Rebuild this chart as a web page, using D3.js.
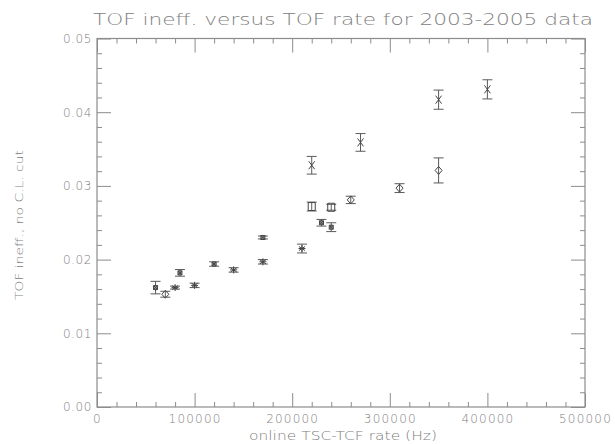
<!DOCTYPE html>
<html>
<head>
<meta charset="utf-8">
<script src="https://cdn.jsdelivr.net/npm/d3@7"></script>
<style>
  body { margin: 0; background: #fff; }
  svg text { font-family: "DejaVu Sans", sans-serif; font-weight: 200; fill: #808080; }
</style>
</head>
<body>
<svg id="chart"></svg>
<script>
var canvas_width = 615;
var canvas_height = 444;

// data, grouped by marker style
var rate_box = [60000, 85000, 120000, 170000, 230000, 240000];
var ineff_box = [0.0162, 0.0182, 0.0194, 0.0230, 0.0250, 0.0244];
var err_box = [0.00085, 0.00045, 0.0003, 0.0002, 0.00045, 0.0006];

var rate_star = [80000, 100000, 140000, 170000, 210000];
var ineff_star = [0.0162, 0.0165, 0.0186, 0.0197, 0.0215];
var err_star = [0.0002, 0.0003, 0.0003, 0.0003, 0.0006];

var rate_diamond = [70000, 260000, 310000, 350000];
var ineff_diamond = [0.0153, 0.0281, 0.0297, 0.0321];
var err_diamond = [0.0004, 0.0005, 0.0006, 0.0017];

var rate_cross = [220000, 270000, 350000, 400000];
var ineff_cross = [0.0328, 0.0359, 0.0417, 0.0431];
var err_cross = [0.0012, 0.0012, 0.0013, 0.0013];

var rate_square = [220000, 240000];
var ineff_square = [0.0272, 0.0271];
var err_square = [0.0006, 0.0004];

var x_major = [0, 100000, 200000, 300000, 400000, 500000];
var y_major = [0, 0.01, 0.02, 0.03, 0.04, 0.05];

var title_text = "TOF ineff. versus TOF rate for 2003-2005 data";
var x_label = "online TSC-TCF rate (Hz)";
var y_label = "TOF ineff., no C.L. cut";

var left = 97, right = 585, top_edge = 38.5, bottom = 407;
var frame_col = "#8c8c8c";
var mark_col = "#444";
var bar_col = "#5a5a5a";

let svg = d3.select("#chart").attr("width", canvas_width).attr("height", canvas_height);

let x = d3.scaleLinear().domain([0, 500000]).range([left, right]);
let y = d3.scaleLinear().domain([0, 0.05]).range([bottom, top_edge]);

var x_minor = d3.range(0, 500001, 20000).filter(d => d % 100000 != 0);
var y_minor = d3.range(0, 26).map(i => i * 0.002).filter((d, i) => i % 5 != 0);

function style_axis(g){
    g.select(".domain").remove();
    g.selectAll("line").attr("stroke", frame_col);
}

// major + minor ticks on all four sides, pointing inwards
svg.append("g").attr("transform", "translate(0," + bottom + ")")
    .call(d3.axisBottom(x).tickValues(x_major).tickSizeInner(-14).tickSizeOuter(0).tickPadding(7)
        .tickFormat(d3.format("d")))
    .call(style_axis)
    .selectAll("text").attr("font-size", 12).attr("letter-spacing", "1.2px")
        .attr("font-family", "DejaVu Sans").attr("fill", "#808080");
svg.append("g").attr("transform", "translate(0," + bottom + ")")
    .call(d3.axisBottom(x).tickValues(x_minor).tickSize(-5).tickFormat(""))
    .call(style_axis);
svg.append("g").attr("transform", "translate(0," + top_edge + ")")
    .call(d3.axisTop(x).tickValues(x_major).tickSize(-14).tickFormat(""))
    .call(style_axis);
svg.append("g").attr("transform", "translate(0," + top_edge + ")")
    .call(d3.axisTop(x).tickValues(x_minor).tickSize(-5).tickFormat(""))
    .call(style_axis);

svg.append("g").attr("transform", "translate(" + left + ",0)")
    .call(d3.axisLeft(y).tickValues(y_major).tickSizeInner(-14).tickSizeOuter(0).tickPadding(5)
        .tickFormat(d3.format(".2f")))
    .call(style_axis)
    .selectAll("text").attr("font-size", 12).attr("letter-spacing", "0.6px")
        .attr("font-family", "DejaVu Sans").attr("fill", "#808080");
svg.append("g").attr("transform", "translate(" + left + ",0)")
    .call(d3.axisLeft(y).tickValues(y_minor).tickSize(-5).tickFormat(""))
    .call(style_axis);
svg.append("g").attr("transform", "translate(" + right + ",0)")
    .call(d3.axisRight(y).tickValues(y_major).tickSize(-14).tickFormat(""))
    .call(style_axis);
svg.append("g").attr("transform", "translate(" + right + ",0)")
    .call(d3.axisRight(y).tickValues(y_minor).tickSize(-5).tickFormat(""))
    .call(style_axis);

svg.append("rect")
    .attr("x", left).attr("y", top_edge)
    .attr("width", right - left).attr("height", bottom - top_edge)
    .attr("fill", "none").attr("stroke", frame_col).attr("stroke-width", 1.2);

// titles
svg.append("text")
    .attr("x", 93).attr("y", 25)
    .attr("font-size", 16)
    .attr("textLength", 500).attr("lengthAdjust", "spacingAndGlyphs")
    .text(title_text);

svg.append("text")
    .attr("x", 249).attr("y", 440)
    .attr("font-size", 12)
    .attr("textLength", 188).attr("lengthAdjust", "spacingAndGlyphs")
    .text(x_label);

svg.append("text")
    .attr("transform", "translate(23,300) rotate(-90)")
    .attr("font-size", 11)
    .attr("textLength", 150).attr("lengthAdjust", "spacingAndGlyphs")
    .text(y_label);

// error bars + markers
function make_points(rates, vals, errs){
    return rates.map((r, i) => ({"rate": r, "v": vals[i], "e": errs[i]}));
}

function draw_errors(data){
    let g = svg.append("g").attr("stroke", bar_col).attr("stroke-width", 1).attr("fill", "none");
    data.forEach(d => {
        let cx = x(d.rate);
        let y1 = y(d.v + d.e), y2 = y(d.v - d.e);
        g.append("line").attr("x1", cx).attr("x2", cx).attr("y1", y1).attr("y2", y2);
        g.append("line").attr("x1", cx - 5).attr("x2", cx + 5).attr("y1", y1).attr("y2", y1);
        g.append("line").attr("x1", cx - 5).attr("x2", cx + 5).attr("y1", y2).attr("y2", y2);
    });
}

function marker_path(kind, cx, cy){
    let p = d3.path();
    if(kind == "box"){
        p.rect(cx - 2, cy - 2, 4, 4);
        p.moveTo(cx - 2, cy - 2); p.lineTo(cx + 2, cy + 2);
        p.moveTo(cx + 2, cy - 2); p.lineTo(cx - 2, cy + 2);
    } else if(kind == "star"){
        p.moveTo(cx, cy - 3.5); p.lineTo(cx, cy + 3.5);
        p.moveTo(cx - 3, cy - 2); p.lineTo(cx + 3, cy + 2);
        p.moveTo(cx + 3, cy - 2); p.lineTo(cx - 3, cy + 2);
        p.moveTo(cx - 3.5, cy); p.lineTo(cx + 3.5, cy);
    } else if(kind == "diamond"){
        p.moveTo(cx, cy - 4); p.lineTo(cx + 3.5, cy); p.lineTo(cx, cy + 4);
        p.lineTo(cx - 3.5, cy); p.closePath();
    } else if(kind == "cross"){
        p.moveTo(cx - 3, cy - 4); p.lineTo(cx + 3, cy + 4);
        p.moveTo(cx + 3, cy - 4); p.lineTo(cx - 3, cy + 4);
    } else if(kind == "square"){
        p.rect(cx - 3.5, cy - 4, 7, 8);
    }
    return p.toString();
}

function draw_series(rates, vals, errs, kind){
    let data = make_points(rates, vals, errs);
    draw_errors(data);
    svg.append("g").selectAll("path")
        .data(data)
        .join("path")
        .attr("d", d => marker_path(kind, x(d.rate), y(d.v)))
        .attr("fill", kind == "box" ? "#999" : "none")
        .attr("stroke", mark_col)
        .attr("stroke-width", 1);
}

draw_series(rate_box, ineff_box, err_box, "box");
draw_series(rate_star, ineff_star, err_star, "star");
draw_series(rate_diamond, ineff_diamond, err_diamond, "diamond");
draw_series(rate_cross, ineff_cross, err_cross, "cross");
draw_series(rate_square, ineff_square, err_square, "square");
</script>
</body>
</html>
